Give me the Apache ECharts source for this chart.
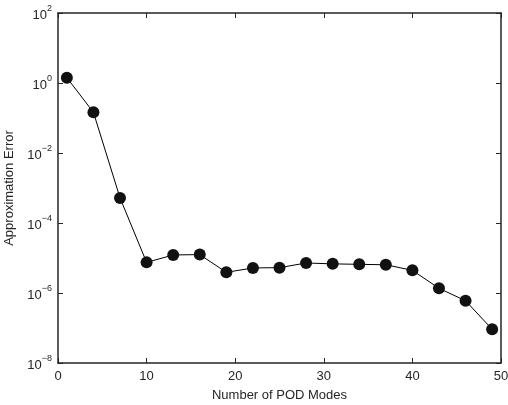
<!DOCTYPE html>
<html><head><meta charset="utf-8">
<script src="https://cdn.jsdelivr.net/npm/echarts@6/dist/echarts.min.js"></script>
<style>html,body{margin:0;padding:0;background:#fff}#c{width:508px;height:405px}</style>
</head><body><div id="c"></div>
<script>
var modes = [1, 4, 7, 10, 13, 16, 19, 22, 25, 28, 31, 34, 37, 40, 43, 46, 49];
var errors = [1.42, 0.145, 5.2e-4, 7.5e-6, 1.22e-5, 1.25e-5, 3.9e-6, 5.2e-6, 5.3e-6, 7.2e-6, 6.8e-6, 6.6e-6, 6.4e-6, 4.45e-6, 1.36e-6, 6.0e-7, 9.2e-8];
var xTicks = [0, 10, 20, 30, 40, 50];
var yExps = [-8, -6, -4, -2, 0, 2];
var xTitle = 'Number of POD Modes';
var yTitle = 'Approximation Error';

var font = 'Liberation Sans, Arial, sans-serif';
var txt = '#262626';
var chart = echarts.init(document.getElementById('c'), null, {renderer: 'canvas'});
var axCommon = {
  axisLine: {show: true, onZero: false, lineStyle: {color: '#262626', width: 1.5}},
  axisTick: {show: true, inside: true, length: 5, lineStyle: {color: '#262626'}},
  splitLine: {show: false}
};
function supLabel(v) {
  var e = Math.round(Math.log10(v));
  return '{b|10}{e|' + (e < 0 ? '\u2212' + (-e) : e) + '}';
}
var rich = {
  b: {fontSize: 13, fontFamily: font, color: txt, verticalAlign: 'bottom'},
  e: {fontSize: 9, fontFamily: font, color: txt, verticalAlign: 'top', padding: [0, 0, 9, 0]}
};
chart.setOption({
  animation: false,
  backgroundColor: '#fff',
  grid: {left: 58, top: 13, right: 7, bottom: 42, containLabel: false, outerBoundsMode: 'none'},
  xAxis: [
    Object.assign({}, axCommon, {
      type: 'value', min: xTicks[0], max: xTicks[xTicks.length - 1], interval: 10, position: 'bottom',
      name: xTitle, nameLocation: 'middle', nameGap: 26,
      nameTextStyle: {fontSize: 13, fontFamily: font, color: txt},
      axisLabel: {fontSize: 13, fontFamily: font, color: txt, margin: 7}
    }),
    Object.assign({}, axCommon, {
      type: 'value', min: xTicks[0], max: xTicks[xTicks.length - 1], interval: 10, position: 'top',
      axisLabel: {show: false}
    })
  ],
  yAxis: [
    Object.assign({}, axCommon, {
      type: 'log', logBase: 10, min: Math.pow(10, yExps[0]), max: Math.pow(10, yExps[yExps.length - 1]),
      interval: 2, position: 'left',
      name: yTitle, nameLocation: 'middle', nameGap: 38,
      nameTextStyle: {fontSize: 13, fontFamily: font, color: txt},
      axisLabel: {formatter: supLabel, rich: rich, margin: 6}
    }),
    Object.assign({}, axCommon, {
      type: 'log', logBase: 10, min: Math.pow(10, yExps[0]), max: Math.pow(10, yExps[yExps.length - 1]),
      interval: 2, position: 'right',
      axisLabel: {show: false}
    })
  ],
  series: [{
    type: 'line',
    data: modes.map(function (m, i) { return [m, errors[i]]; }),
    xAxisIndex: 0, yAxisIndex: 0,
    symbol: 'circle', symbolSize: 12,
    lineStyle: {color: '#000', width: 1},
    itemStyle: {color: '#111', borderColor: '#000', borderWidth: 0}
  }]
});
</script></body></html>
